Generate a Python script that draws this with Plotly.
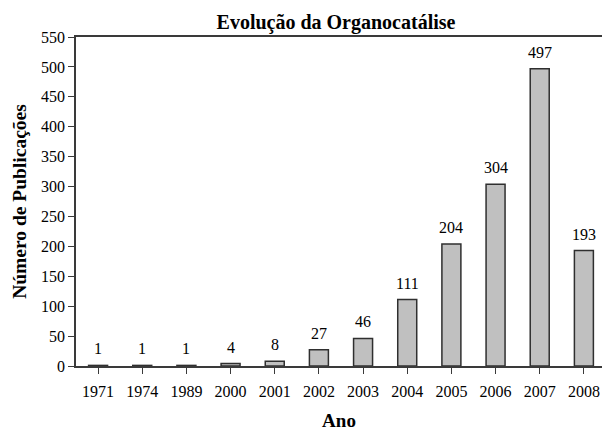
import plotly.graph_objects as go

years = ["1971", "1974", "1989", "2000", "2001", "2002", "2003", "2004", "2005", "2006", "2007", "2008"]
publications = [1, 1, 1, 4, 8, 27, 46, 111, 204, 304, 497, 193]
y_ticks = list(range(0, 551, 50))

FONT = "Liberation Serif, Times New Roman, serif"
AXIS_COLOR = "#3a3a3a"
x_pos = list(range(len(years)))

fig = go.Figure(
    go.Bar(
        x=x_pos,
        y=publications,
        marker=dict(color="#c0c0c0", line=dict(color="#2f2f2f", width=1.5)),
        width=0.43,
        hoverinfo="skip",
    )
)

for xi, v in zip(x_pos, publications):
    fig.add_annotation(
        x=xi, y=v, text=str(v), showarrow=False,
        xanchor="center", yanchor="bottom", yshift=6,
        font=dict(family=FONT, size=16, color="black"),
    )

fig.update_layout(
    width=602,
    height=431,
    margin=dict(l=76, r=0, t=37, b=65, autoexpand=False),
    paper_bgcolor="white",
    plot_bgcolor="white",
    showlegend=False,
    font=dict(family=FONT, color="black"),
    title=dict(
        text="<b>Evolução da Organocatálise</b>",
        x=336 / 602, xanchor="center", xref="container",
        y=1 - 22 / 431, yanchor="middle", yref="container",
        font=dict(family=FONT, size=20, color="black"),
        automargin=False,
    ),
    bargap=0.57,
)

fig.update_xaxes(
    range=[-0.5, 11.41],
    automargin=False,
    tickmode="array",
    tickvals=x_pos,
    ticktext=years,
    tickson="boundaries",
    ticks="outside",
    ticklen=6,
    tickwidth=1.3,
    tickcolor=AXIS_COLOR,
    ticklabelstandoff=4,
    tickfont=dict(family=FONT, size=16, color="black"),
    showline=True,
    linecolor=AXIS_COLOR,
    linewidth=1.5,
    mirror=True,
    showgrid=False,
    zeroline=False,
    title=dict(text="<b>Ano</b>", font=dict(family=FONT, size=19, color="black"), standoff=17),
)

fig.update_yaxes(
    range=[0, 550],
    automargin=False,
    tickmode="array",
    tickvals=y_ticks,
    ticktext=[str(v) for v in y_ticks],
    ticks="outside",
    ticklen=6,
    tickwidth=1.3,
    tickcolor=AXIS_COLOR,
    tickfont=dict(family=FONT, size=16, color="black"),
    showline=True,
    linecolor=AXIS_COLOR,
    linewidth=1.5,
    showgrid=False,
    zeroline=False,
    title=dict(text="<b>Número de Publicações</b>", font=dict(family=FONT, size=19.5, color="black"), standoff=9),
)

fig.write_html(
    "out.html",
    config={"displayModeBar": False},
    post_script="document.body.style.margin='0';document.body.style.overflow='hidden';",
)
